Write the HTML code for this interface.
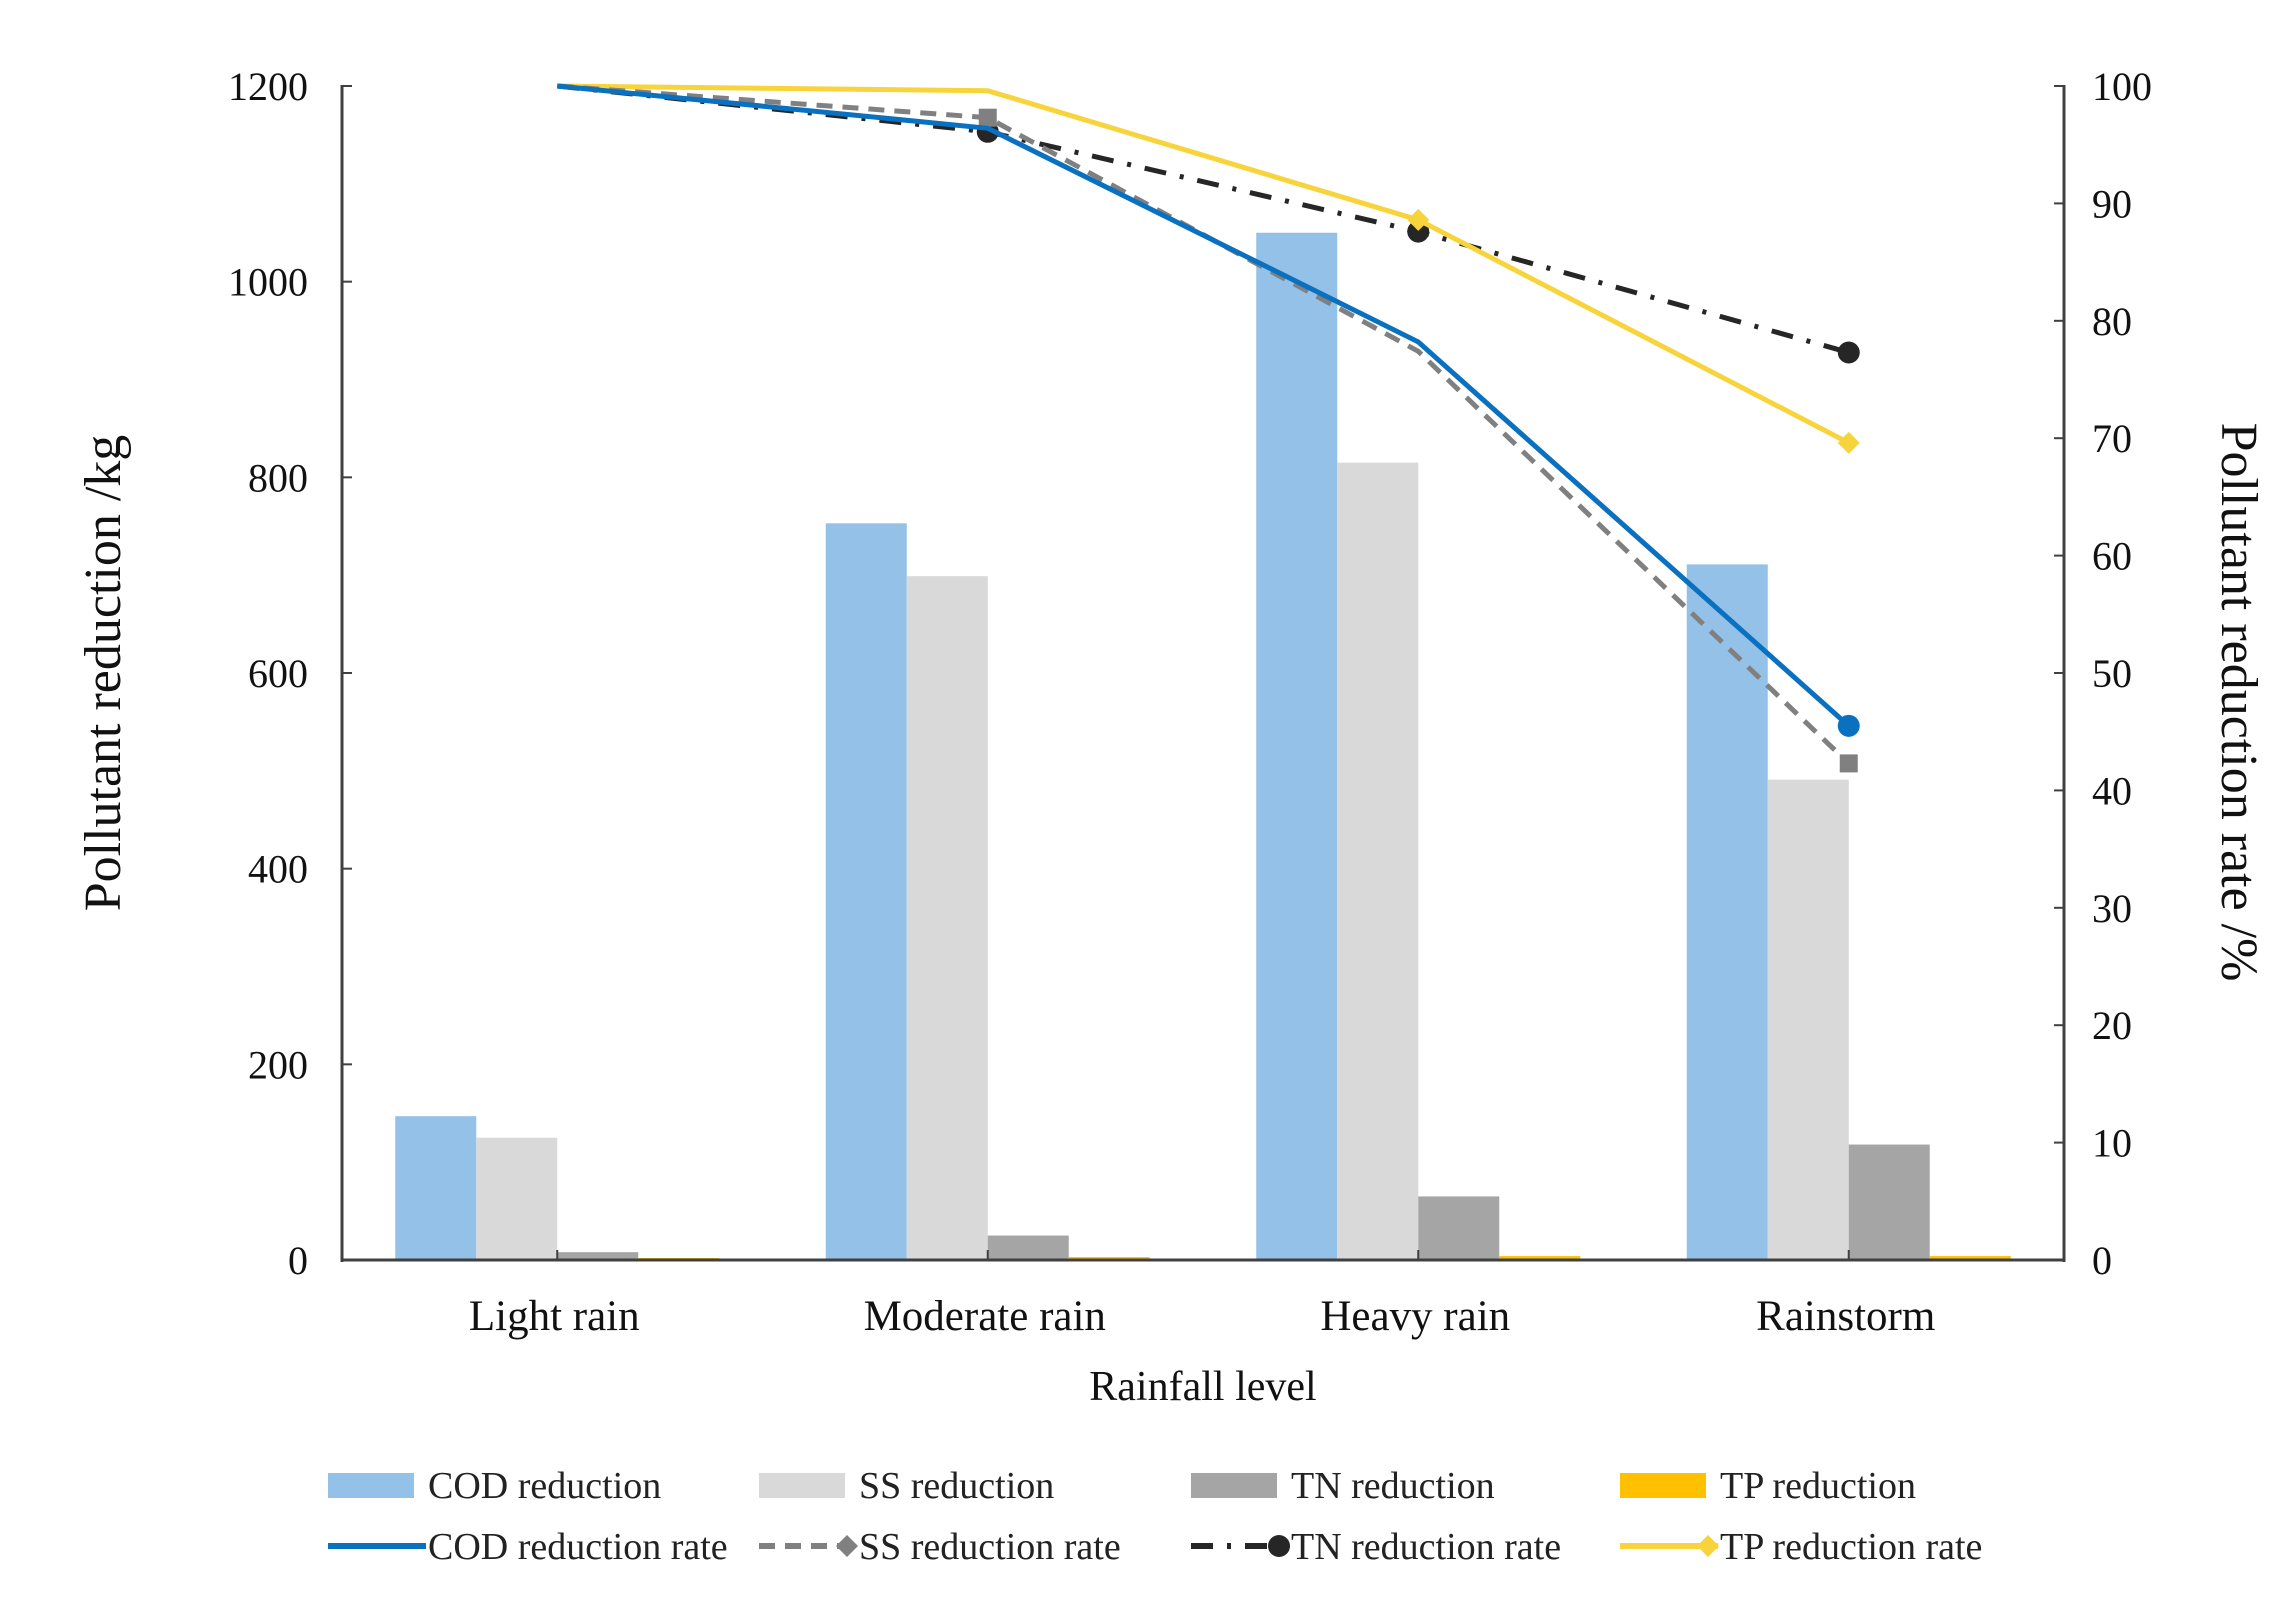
<!DOCTYPE html>
<html><head><meta charset="utf-8"><style>
body{margin:0;background:#fff}
svg{display:block;font-family:"Liberation Serif",serif}
</style></head><body>
<svg id="chart" width="2291" height="1611" viewBox="0 0 2291 1611" xmlns="http://www.w3.org/2000/svg">
<g id="bars"></g>
<g id="lines"></g>
<g id="axes"></g>
<text x="120" y="673" font-size="52" text-anchor="middle" transform="rotate(-90 120 673)" fill="#111">Pollutant reduction /kg</text>
<text x="2222" y="702" font-size="52" text-anchor="middle" transform="rotate(90 2222 702)" fill="#111">Pollutant reduction rate /%</text>
<text x="1203" y="1400" font-size="42" text-anchor="middle" fill="#111">Rainfall level</text>
<g id="legend"></g>
</svg>
<script>
const categories = ["Light rain","Moderate rain","Heavy rain","Rainstorm"];
const codRed = [147,753,1050,711];
const ssRed = [125,699,815,491];
const tnRed = [8,25,65,118];
const tpRed = [2,3,4,4];
const codRate = [100,96.4,78.2,45.5];
const ssRate = [100,97.3,77.4,42.3];
const tnRate = [100,96.1,87.6,77.3];
const tpRate = [100,99.6,88.6,69.6];
const leftTicks = [0,200,400,600,800,1000,1200];
const rightTicks = [0,10,20,30,40,50,60,70,80,90,100];

const NS="http://www.w3.org/2000/svg";
const X0=342,X1=2064,Y0=1260,Y1=86;
const band=(X1-X0)/categories.length;
const yL=v=>Y0-(v/1200)*(Y0-Y1);
const yR=v=>Y0-(v/100)*(Y0-Y1);
const xC=i=>X0+band*(i+0.5);
function mk(tag,attrs,parent){const e=document.createElementNS(NS,tag);for(const k in attrs)e.setAttribute(k,attrs[k]);parent.appendChild(e);return e;}
const bars=document.getElementById('bars'),lines=document.getElementById('lines'),axes=document.getElementById('axes'),legend=document.getElementById('legend');
const bw=81;
const barSeries=[[codRed,'#93c1e7','cod'],[ssRed,'#d9d9d9','ss'],[tnRed,'#a5a5a5','tn'],[tpRed,'#ffc000','tp']];
barSeries.forEach((s,si)=>{s[0].forEach((v,i)=>{
  const x=xC(i)-2*bw+si*bw;
  const r=mk('rect',{x:x,y:yL(v),width:bw,height:Y0-yL(v),fill:s[1]},bars);
  
  
});});
let a=mk('line',{x1:X0,y1:Y1-1,x2:X0,y2:Y0+2,stroke:'#404040','stroke-width':3},axes);

a=mk('line',{x1:X1,y1:Y1-1,x2:X1,y2:Y0+2,stroke:'#404040','stroke-width':3},axes);

a=mk('line',{x1:X0,y1:Y0,x2:X1,y2:Y0,stroke:'#404040','stroke-width':3},axes);

leftTicks.forEach(t=>{
  mk('line',{x1:X0,y1:yL(t),x2:X0+10,y2:yL(t),stroke:'#404040','stroke-width':2},axes);
  const tx=mk('text',{x:308,y:yL(t)+14,'font-size':40,'text-anchor':'end',fill:'#111'},axes);tx.textContent=t;
  
});
rightTicks.forEach(t=>{
  mk('line',{x1:X1-10,y1:yR(t),x2:X1,y2:yR(t),stroke:'#404040','stroke-width':2},axes);
  const tx=mk('text',{x:2092,y:yR(t)+14,'font-size':40,fill:'#111'},axes);tx.textContent=t;
  
});
categories.forEach((c,i)=>{
  mk('line',{x1:xC(i),y1:Y0,x2:xC(i),y2:Y0-10,stroke:'#404040','stroke-width':2},axes);
  const tx=mk('text',{x:xC(i)-3,y:1330,'font-size':43,'text-anchor':'middle',fill:'#111'},axes);tx.textContent=c;
  
});
// markers: which points show a marker per series
const lineSeries=[
 [tnRate,'#262626','22,14,4,14','circle','tn',[1,2,3]],
 [tpRate,'#f7d43b','','diamond','tp',[2,3]],
 [ssRate,'#808080','16,10','square','ss',[1,3]],
 [codRate,'#0a70c0','','circle','cod',[3]]];
lineSeries.forEach(s=>{
  const pts=s[0].map((v,i)=>xC(i)+','+yR(v)).join(' ');
  const p=mk('polyline',{points:pts,fill:'none',stroke:s[1],'stroke-width':5,'stroke-dasharray':s[2]||'none'},lines);
  
  s[0].forEach((v,i)=>{ if(s[5].indexOf(i)<0) return;
    const x=xC(i),y=yR(v);let m;
    if(s[3]==='circle') m=mk('circle',{cx:x,cy:y,r:11,fill:s[1]},lines);
    else if(s[3]==='square') m=mk('rect',{x:x-9,y:y-9,width:18,height:18,fill:s[1]},lines);
    else m=mk('path',{d:`M${x},${y-11}L${x+11},${y}L${x},${y+11}L${x-11},${y}Z`,fill:s[1]},lines);
    
  });
});
const legBars=[['COD reduction','#93c1e7',328],['SS reduction','#d9d9d9',759],['TN reduction','#a5a5a5',1191],['TP reduction','#ffc000',1620]];
legBars.forEach(l=>{
  const r=mk('rect',{x:l[2],y:1473,width:86,height:25,fill:l[1]},legend);
  
  const t=mk('text',{x:l[2]+100,y:1498,'font-size':38,fill:'#222'},legend);t.textContent=l[0];
  
});
const legLines=[['COD reduction rate','#0a70c0',328,'','none'],['SS reduction rate','#808080',759,'16,10','diamond'],['TN reduction rate','#262626',1191,'22,14,4,14','circle'],['TP reduction rate','#f7d43b',1620,'','diamond']];
legLines.forEach(l=>{
  const y=1546;
  const ln=mk('line',{x1:l[2],y1:y,x2:l[2]+98,y2:y,stroke:l[1],'stroke-width':6,'stroke-dasharray':l[3]||'none'},legend);
  
  const mx=l[2]+88;
  if(l[4]==='circle') mk('circle',{cx:mx,cy:y,r:11,fill:l[1]},legend);
  else if(l[4]==='diamond') mk('path',{d:`M${mx},${y-11}L${mx+11},${y}L${mx},${y+11}L${mx-11},${y}Z`,fill:l[1]},legend);
  const t=mk('text',{x:l[2]+100,y:y+13,'font-size':38,fill:'#222'},legend);t.textContent=l[0];
  
});
</script>
</body></html>
